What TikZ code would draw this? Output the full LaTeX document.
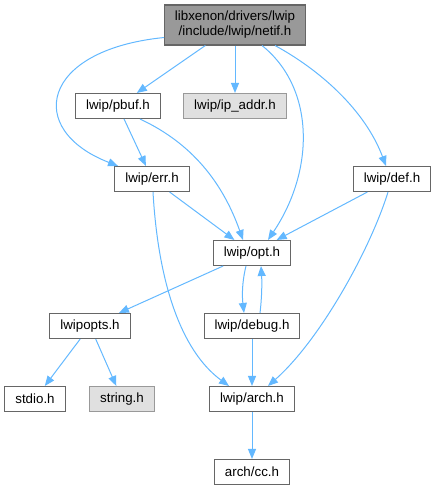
\documentclass[tikz,border=0pt]{standalone}
\usepackage{fontspec}
\setmainfont{Liberation Sans}
\usetikzlibrary{arrows.meta, calc}
\definecolor{edgeblue}{HTML}{63B8FF}
\definecolor{boxline}{HTML}{666666}
\definecolor{extline}{HTML}{999999}
\definecolor{extfill}{HTML}{E0E0E0}
\definecolor{curfill}{HTML}{999999}

\begin{document}
\begin{tikzpicture}[x=0.75pt, y=-0.75pt,
  every node/.style={font=\fontsize{10}{11.25}\selectfont, align=center, inner xsep=7.8pt, inner ysep=0pt, minimum height=18.75pt},
  hdr/.style={draw=boxline, line width=0.8pt, fill=white},
  ext/.style={draw=extline, line width=0.8pt, fill=extfill},
  cur/.style={draw=boxline, line width=0.8pt, fill=curfill, minimum height=30pt},
  dep/.style={draw=edgeblue, line width=0.75pt, -{Triangle[length=7.5pt, width=6pt]}}]
  \useasboundingbox (0,0) rectangle (437,491);

  \node[cur] (netif) at (235,25) {libxenon/drivers/lwip\\/include/lwip/netif.h};
  \node[hdr] (pbuf) at (118,106) {lwip/pbuf.h};
  \node[ext] (ipaddr) at (235,106) {lwip/ip\_addr.h};
  \node[hdr] (err) at (152,179) {lwip/err.h};
  \node[hdr] (def) at (392,179) {lwip/def.h};
  \node[hdr] (opt) at (252,253) {lwip/opt.h};
  \node[hdr] (lwipopts) at (90,326) {lwipopts.h};
  \node[hdr] (debug) at (252,326) {lwip/debug.h};
  \node[hdr] (stdio) at (35,399) {stdio.h};
  \node[ext] (strh) at (122,399) {string.h};
  \node[hdr] (arch) at (252,399) {lwip/arch.h};
  \node[hdr] (cc) at (252,472) {arch/cc.h};

  \draw[dep] (netif) -- (pbuf);
  \draw[dep] (netif) -- (ipaddr);
  \draw[dep] (netif.190) .. controls (40,50) and (25,130) .. (err.159);
  \draw[dep] ($(netif.south)+(27,0)$) .. controls (315,88) and (315,170) .. ($(opt.north)+(16,0)$);
  \draw[dep] ($(netif.south)+(40,0)$) .. controls (320,70) and (365,110) .. ($(def.north)+(-6,0)$);
  \draw[dep] (pbuf) -- (err);
  \draw[dep] ($(pbuf.south)+(22,0)$) .. controls (185,140) and (220,175) .. ($(opt.north)+(-9,0)$);
  \draw[dep] (err) -- (opt);
  \draw[dep] ($(err.south)+(1,0)$) .. controls (158,280) and (180,350) .. ($(arch.north)+(-23,0)$);
  \draw[dep] (def) -- (opt);
  \draw[dep] ($(def.south)+(-4,0)$) .. controls (370,250) and (320,340) .. ($(arch.north)+(16,0)$);
  \draw[dep] (opt) -- (lwipopts);
  \draw[dep] ($(opt.south)+(-6,0)$) .. controls (242,282) and (242,296) .. ($(debug.north)+(-8,0)$);
  \draw[dep] ($(debug.north)+(8,0)$) .. controls (262,296) and (262,282) .. ($(opt.south)+(9,0)$);
  \draw[dep] (lwipopts) -- (stdio);
  \draw[dep] (lwipopts) -- (strh);
  \draw[dep] (debug) -- (arch);
  \draw[dep] (arch) -- (cc);
\end{tikzpicture}
\end{document}
